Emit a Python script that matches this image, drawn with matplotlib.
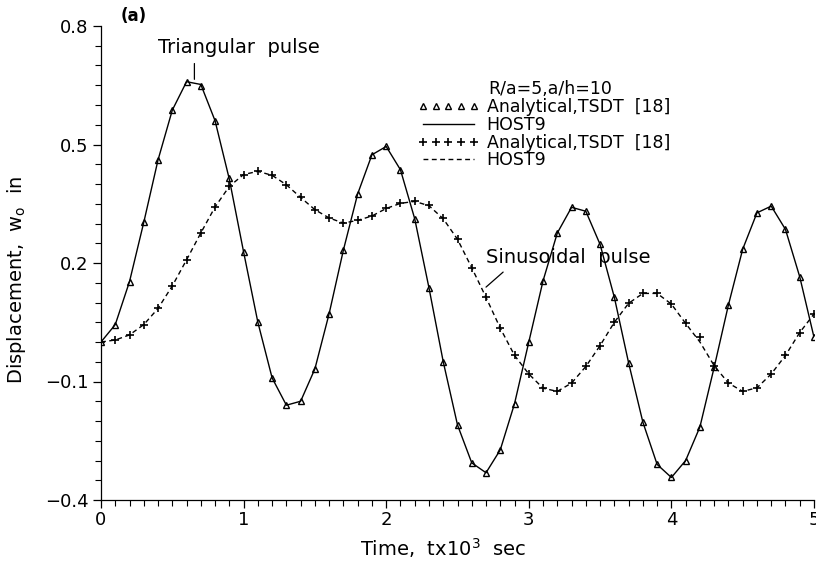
import matplotlib

matplotlib.use('Agg')
import matplotlib.pyplot as plt
from matplotlib.lines import Line2D
from matplotlib.ticker import MultipleLocator, FixedLocator

plt.rcParams['font.family'] = ['DejaVu Sans']
plt.rcParams['mathtext.fontset'] = 'dejavusans'

# time, t x 10^3 sec
time = [0.0, 0.1, 0.2, 0.3, 0.4, 0.5, 0.6, 0.7, 0.8, 0.9,
        1.0, 1.1, 1.2, 1.3, 1.4, 1.5, 1.6, 1.7, 1.8, 1.9,
        2.0, 2.1, 2.2, 2.3, 2.4, 2.5, 2.6, 2.7, 2.8, 2.9,
        3.0, 3.1, 3.2, 3.3, 3.4, 3.5, 3.6, 3.7, 3.8, 3.9,
        4.0, 4.1, 4.2, 4.3, 4.4, 4.5, 4.6, 4.7, 4.8, 4.9, 5.0]

# triangular pulse, HOST9
tri_host9 = [0.000, 0.044, 0.153, 0.303, 0.461, 0.587, 0.659, 0.652, 0.560, 0.412,
             0.228, 0.050, -0.091, -0.160, -0.150, -0.068, 0.072, 0.233, 0.375, 0.474,
             0.495, 0.436, 0.312, 0.137, -0.050, -0.210, -0.306, -0.331, -0.273, -0.156,
             0.000, 0.155, 0.276, 0.341, 0.331, 0.247, 0.113, -0.053, -0.203, -0.310,
             -0.343, -0.300, -0.215, -0.064, 0.094, 0.235, 0.327, 0.344, 0.285, 0.165, 0.012]
# triangular pulse, analytical TSDT [18]
tri_analytical = [0.000, 0.044, 0.153, 0.303, 0.461, 0.587, 0.659, 0.649, 0.560, 0.415,
                  0.228, 0.050, -0.091, -0.160, -0.150, -0.068, 0.072, 0.233, 0.375, 0.474,
                  0.495, 0.436, 0.312, 0.137, -0.050, -0.210, -0.306, -0.331, -0.273, -0.156,
                  0.000, 0.155, 0.276, 0.341, 0.331, 0.247, 0.113, -0.053, -0.203, -0.310,
                  -0.343, -0.300, -0.215, -0.064, 0.094, 0.235, 0.327, 0.344, 0.285, 0.165, 0.012]

# sinusoidal pulse, HOST9
sin_host9 = [0.000, 0.005, 0.018, 0.044, 0.085, 0.142, 0.208, 0.276, 0.342, 0.394,
             0.424, 0.432, 0.422, 0.398, 0.366, 0.335, 0.314, 0.301, 0.308, 0.319,
             0.338, 0.351, 0.356, 0.345, 0.312, 0.260, 0.188, 0.113, 0.035, -0.034,
             -0.081, -0.117, -0.125, -0.104, -0.062, -0.009, 0.050, 0.098, 0.123, 0.123,
             0.096, 0.047, 0.000, -0.060, -0.104, -0.125, -0.116, -0.081, -0.034, 0.024, 0.071]
# sinusoidal pulse, analytical TSDT [18]
sin_analytical = [0.000, 0.005, 0.018, 0.044, 0.085, 0.142, 0.208, 0.276, 0.342, 0.394,
                  0.424, 0.432, 0.422, 0.398, 0.366, 0.335, 0.314, 0.301, 0.308, 0.319,
                  0.338, 0.351, 0.356, 0.346, 0.313, 0.260, 0.188, 0.113, 0.035, -0.033,
                  -0.081, -0.117, -0.124, -0.104, -0.062, -0.009, 0.050, 0.098, 0.123, 0.123,
                  0.096, 0.047, 0.012, -0.060, -0.104, -0.125, -0.116, -0.081, -0.034, 0.024, 0.071]

legend_labels = ['Analytical,TSDT  [18]', 'HOST9', 'Analytical,TSDT  [18]', 'HOST9']

fig = plt.figure(figsize=(8.16, 5.61), dpi=100)
ax = fig.add_axes([101 / 816, 1 - 500 / 561, 713 / 816, 474 / 561])

dash = (0, (3.5, 2.5))
ax.plot(time, tri_host9, color='k', lw=1.0)
ax.plot(time, tri_analytical, ls='none', marker='^', ms=4.5, mfc='none', mec='k', mew=1.0)
ax.plot(time, sin_host9, color='k', lw=1.0, ls=dash)
ax.plot(time, sin_analytical, ls='none', marker='+', ms=6, mec='k', mew=1.2)

ax.set_xlim(0, 5)
ax.set_ylim(-0.4, 0.8)
for s in ['top', 'right']:
    ax.spines[s].set_visible(False)
ax.spines['left'].set_linewidth(0.9)
ax.spines['bottom'].set_linewidth(0.9)

ax.xaxis.set_major_locator(MultipleLocator(1))
ax.xaxis.set_minor_locator(MultipleLocator(0.1))
ax.yaxis.set_major_locator(FixedLocator([-0.4, -0.1, 0.2, 0.5, 0.8]))
ax.yaxis.set_minor_locator(MultipleLocator(0.05))
ax.set_yticklabels(['\u22120.4', '\u22120.1', '0.2', '0.5', '0.8'])
ax.tick_params(which='major', direction='out', length=6, width=0.9, labelsize=13)
ax.tick_params(which='minor', direction='out', length=4.5, width=0.8)
ax.tick_params(axis='x', pad=2)
ax.tick_params(axis='y', pad=3)

ax.set_xlabel('Time,  tx10$^3$  sec', fontsize=14)
ax.xaxis.set_label_coords(0.48, -0.076)
ax.set_ylabel('Displacement,  w$_\\mathregular{o}$  in', fontsize=14)
ax.yaxis.set_label_coords(-0.102, 0.464)

ax.text(0.027, 1.022, '(a)', transform=ax.transAxes, fontsize=12, fontweight='bold',
        va='center', ha='left')

# pulse labels with leader lines
ax.annotate('', xy=(0.655, 0.665), xytext=(0.655, 0.705),
            arrowprops=dict(arrowstyle='-', color='k', lw=0.9, shrinkA=0, shrinkB=0))
ax.text(0.965, 0.745, 'Triangular  pulse', fontsize=14, ha='center', va='center')
ax.annotate('', xy=(2.70, 0.139), xytext=(2.82, 0.177),
            arrowprops=dict(arrowstyle='-', color='k', lw=0.9, shrinkA=0, shrinkB=0))
ax.text(3.275, 0.215, 'Sinusoidal  pulse', fontsize=14, ha='center', va='center')

handles = [Line2D([], [], ls='none', marker='^', ms=4, mfc='none', mec='k', mew=1.0),
           Line2D([], [], color='k', lw=1.0),
           Line2D([], [], ls='none', marker='+', ms=6, mec='k', mew=1.2),
           Line2D([], [], color='k', lw=1.0, ls=dash)]
fig.text(488 / 816, 1 - 89 / 561, 'R/a=5,a/h=10', fontsize=12.5, va='center', ha='left')
ax.legend(handles, legend_labels, numpoints=5, handlelength=3.5, handletextpad=0.45,
          labelspacing=-0.01, borderpad=0, borderaxespad=0, frameon=False, fontsize=12.5,
          loc='upper left', bbox_to_anchor=(418 / 816, 1 - 98 / 561),
          bbox_transform=fig.transFigure)

fig.savefig('out.png', dpi=100)
